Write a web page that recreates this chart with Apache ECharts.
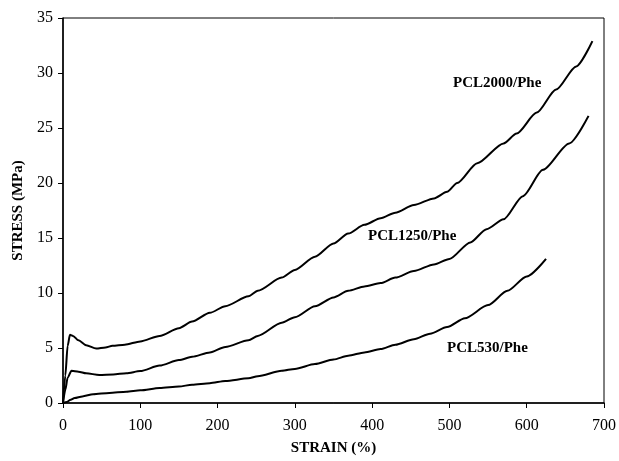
<!DOCTYPE html>
<html>
<head>
<meta charset="utf-8">
<script src="https://cdn.jsdelivr.net/npm/echarts@6/dist/echarts.min.js"></script>
<style>html,body{margin:0;padding:0;background:#fff}#c{width:619px;height:461px}</style>
</head>
<body>
<div id="c"></div>
<script>
const xTicks = [0,100,200,300,400,500,600,700];
const yTicks = [0,5,10,15,20,25,30,35];

const pcl2000 = [[0,0],[3,2.5],[6,5.2],[9,6.2],[13,6.1],[20,5.7],[30,5.25],[43,4.95],[55,5.05],[64,5.2],[80,5.3],[100,5.6],[125,6.1],[150,6.8],[167,7.4],[190,8.2],[210,8.8],[240,9.7],[252,10.2],[283,11.4],[300,12.1],[326,13.3],[350,14.5],[369,15.4],[390,16.2],[411,16.8],[430,17.3],[454,18.0],[480,18.6],[497,19.2],[510,20.0],[536,21.8],[570,23.6],[587,24.5],[613,26.4],[638,28.5],[664,30.6],[685,32.9]];
const pcl1250 = [[0,0],[3,1.2],[6,2.3],[11,2.93],[20,2.85],[30,2.7],[47,2.55],[65,2.6],[82,2.7],[100,2.9],[125,3.4],[150,3.9],[167,4.2],[190,4.6],[210,5.1],[240,5.7],[252,6.1],[283,7.3],[300,7.8],[326,8.8],[350,9.6],[369,10.2],[390,10.6],[411,10.9],[430,11.4],[454,12.0],[480,12.6],[500,13.1],[527,14.6],[548,15.8],[570,16.7],[595,18.8],[621,21.2],[655,23.6],[680,26.1]];
const pcl530 = [[0,0],[5,0.1],[10,0.3],[15,0.45],[25,0.6],[39,0.8],[60,0.92],[82,1.03],[100,1.15],[125,1.36],[150,1.5],[167,1.66],[190,1.8],[210,2.0],[240,2.24],[252,2.44],[283,2.93],[300,3.1],[326,3.54],[350,3.95],[369,4.3],[390,4.6],[411,4.9],[430,5.3],[454,5.8],[475,6.3],[497,6.9],[520,7.7],[550,8.9],[575,10.2],[600,11.5],[625,13.1]];
const seriesNames = ['PCL2000/Phe','PCL1250/Phe','PCL530/Phe'];

const FONT = '"Liberation Serif", "DejaVu Serif", serif';
const chart = echarts.init(document.getElementById('c'), null, {renderer:'canvas'});
const mkSeries = (name, data) => ({
  name, type:'line', data, showSymbol:false, symbol:'none', smooth:0.25, smoothMonotone:'x',
  lineStyle:{color:'#000', width:2}, animation:false
});
chart.setOption({
  backgroundColor:'#fff',
  animation:false,
  grid:{left:63, right:11, top:18, bottom:57, show:true, borderColor:'#000', borderWidth:1, backgroundColor:'transparent'},
  xAxis:{
    type:'value', min:xTicks[0], max:xTicks[xTicks.length-1], interval:100,
    name:'STRAIN (%)', nameLocation:'middle', nameGap:38,
    nameTextStyle:{fontFamily:FONT, fontWeight:'bold', fontSize:15, color:'#000'},
    axisLine:{show:true, lineStyle:{color:'#000', width:1.5}},
    axisTick:{show:true, length:5, lineStyle:{color:'#000'}},
    axisLabel:{fontFamily:FONT, fontSize:16, color:'#000', margin:15},
    splitLine:{show:false}
  },
  yAxis:{
    type:'value', min:yTicks[0], max:yTicks[yTicks.length-1], interval:5,
    name:'STRESS (MPa)', nameLocation:'middle', nameGap:35,
    nameTextStyle:{fontFamily:FONT, fontWeight:'bold', fontSize:15, color:'#000'},
    axisLine:{show:true, lineStyle:{color:'#000', width:1.5}},
    axisTick:{show:true, length:5, lineStyle:{color:'#000'}},
    axisLabel:{fontFamily:FONT, fontSize:16, color:'#000', margin:10},
    splitLine:{show:false}
  },
  graphic:[
    {type:'text', left:453, top:76, style:{text:seriesNames[0], font:'bold 15px '+FONT, fill:'#000'}},
    {type:'text', left:368, top:229, style:{text:seriesNames[1], font:'bold 15px '+FONT, fill:'#000'}},
    {type:'text', left:447, top:341, style:{text:seriesNames[2], font:'bold 15px '+FONT, fill:'#000'}}
  ],
  series:[mkSeries(seriesNames[0], pcl2000), mkSeries(seriesNames[1], pcl1250), mkSeries(seriesNames[2], pcl530)]
});
</script>
</body>
</html>
